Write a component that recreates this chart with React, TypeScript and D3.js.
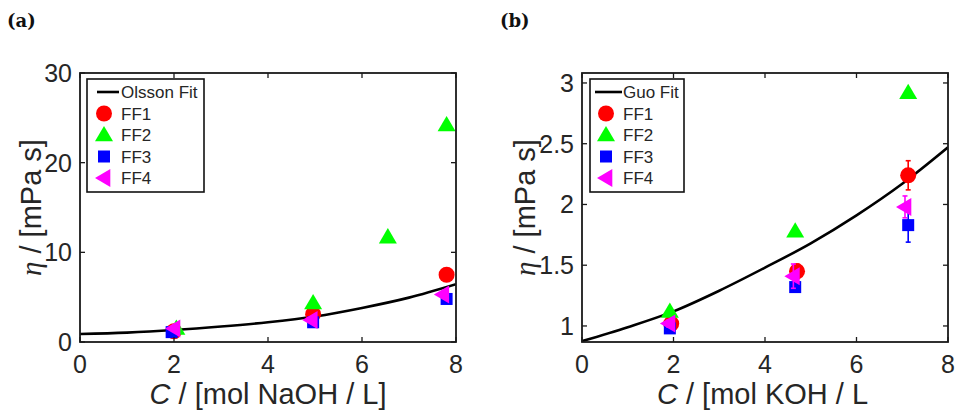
import React from "react";
import * as d3 from "d3";

// ---------- Panel (a): NaOH ----------
const aFitC = [0, 1, 2, 3, 4, 5, 6, 7, 8];
const aFitEta = [0.9, 1.05, 1.33, 1.72, 2.2, 2.85, 3.8, 4.95, 6.45];

const aFF1C = [2.0, 4.96, 7.8];
const aFF1 = [1.2, 3.1, 7.5];
const aFF2C = [2.05, 4.96, 6.55, 7.8];
const aFF2 = [1.5, 4.35, 11.7, 24.2];
const aFF3C = [1.95, 4.96, 7.8];
const aFF3 = [1.1, 2.2, 4.8];
const aFF4C = [2.0, 4.92, 7.72];
const aFF4 = [1.5, 2.45, 5.3];

const aXTicks = [0, 2, 4, 6, 8];
const aYTicks = [0, 10, 20, 30];

// ---------- Panel (b): KOH ----------
const bFitC = [0, 1, 2, 3, 4, 5, 6, 7, 8];
const bFitEta = [0.875, 0.99, 1.12, 1.29, 1.48, 1.68, 1.91, 2.17, 2.47];

const bFF1C = [1.95, 4.7, 7.13];
const bFF1 = [1.02, 1.45, 2.24];
const bFF1Err = [0.03, 0.06, 0.12];
const bFF2C = [1.92, 4.66, 7.13];
const bFF2 = [1.12, 1.78, 2.92];
const bFF2Err = [0.02, 0.02, 0.02];
const bFF3C = [1.92, 4.66, 7.13];
const bFF3 = [0.98, 1.32, 1.83];
const bFF3Err = [0.02, 0.04, 0.14];
const bFF4C = [1.9, 4.62, 7.06];
const bFF4 = [1.02, 1.41, 1.98];
const bFF4Err = [0.03, 0.1, 0.09];

const bXTicks = [0, 2, 4, 6, 8];
const bYTicks = [1, 1.5, 2, 2.5, 3];

const seriesNames = ["FF1", "FF2", "FF3", "FF4"];
const seriesColors = ["#ff0000", "#00ff00", "#0000ff", "#ff00ff"];

const FONT = "'Liberation Sans', Arial, Helvetica, sans-serif";
const TEXT = "#262626";

type Pt = { c: number; v: number; e?: number };

function zip(cs: number[], vs: number[], es?: number[]): Pt[] {
  return cs.map((c, i) => ({ c, v: vs[i], e: es ? es[i] : undefined }));
}

function Marker({ kind, x, y, color }: { kind: number; x: number; y: number; color: string }) {
  if (kind === 0) return <circle cx={x} cy={y} r={8} fill={color} />;
  if (kind === 1) {
    const s = 9;
    return (
      <path
        d={`M${x},${y - s} L${x + s},${y + s * 0.7} L${x - s},${y + s * 0.7} Z`}
        fill={color}
      />
    );
  }
  if (kind === 2) return <rect x={x - 6} y={y - 6} width={12} height={12} fill={color} />;
  const s = 9;
  return (
    <path d={`M${x - s},${y} L${x + s * 0.7},${y - s} L${x + s * 0.7},${y + s} Z`} fill={color} />
  );
}

type PanelProps = {
  left: number;
  right: number;
  top: number;
  bottom: number;
  yDomain: [number, number];
  xTicks: number[];
  yTicks: number[];
  fitC: number[];
  fitEta: number[];
  series: Pt[][];
  fitName: string;
  legendBox: [number, number, number, number];
  legendLine: [number, number];
  legendMarkerX: number;
  legendTextX: number;
  label: string;
  labelX: number;
  xLabelRest: string;
  xLabelX: number;
  xLabelAnchor: "middle" | "start";
  yLabelX: number;
  clipId: string;
};

function Panel(p: PanelProps) {
  const x = d3.scaleLinear().domain([0, 8]).range([p.left, p.right]);
  const y = d3.scaleLinear().domain(p.yDomain).range([p.bottom, p.top]);
  const line = d3
    .line<number>()
    .x((_, i) => x(p.fitC[i]))
    .y((d) => y(d))
    .curve(d3.curveMonotoneX);
  const tickLen = 5;
  const [lx0, ly0, lx1, ly1] = p.legendBox;
  const rowY = [92, 113.5, 135, 156.5, 178];
  return (
    <g>
      <defs>
        <clipPath id={p.clipId}>
          <rect x={p.left} y={p.top} width={p.right - p.left} height={p.bottom - p.top} />
        </clipPath>
      </defs>
      <text
        x={p.labelX}
        y={27}
        fontFamily="'DejaVu Serif', 'Liberation Serif', serif"
        fontWeight="bold"
        fontSize={18}
        fill="#111"
      >
        {p.label}
      </text>
      {/* fit line */}
      <path
        d={line(p.fitEta) || ""}
        fill="none"
        stroke="#000"
        strokeWidth={2.6}
        clipPath={`url(#${p.clipId})`}
      />
      {/* error bars + markers */}
      {p.series.map((pts, si) => (
        <g key={si}>
          {pts.map((d, i) =>
            d.e ? (
              <g key={"e" + i} stroke={seriesColors[si]} strokeWidth={1.6}>
                <line x1={x(d.c)} x2={x(d.c)} y1={y(d.v - d.e)} y2={y(d.v + d.e)} />
                <line x1={x(d.c) - 2.5} x2={x(d.c) + 2.5} y1={y(d.v - d.e)} y2={y(d.v - d.e)} />
                <line x1={x(d.c) - 2.5} x2={x(d.c) + 2.5} y1={y(d.v + d.e)} y2={y(d.v + d.e)} />
              </g>
            ) : null
          )}
          {pts.map((d, i) => (
            <Marker key={i} kind={si} x={x(d.c)} y={y(d.v)} color={seriesColors[si]} />
          ))}
        </g>
      ))}
      {/* axes box */}
      <rect
        x={p.left}
        y={p.top}
        width={p.right - p.left}
        height={p.bottom - p.top}
        fill="none"
        stroke="#1a1a1a"
        strokeWidth={1.8}
      />
      {p.xTicks.map((t) => (
        <g key={"xt" + t}>
          <line x1={x(t)} x2={x(t)} y1={p.bottom} y2={p.bottom - tickLen} stroke="#1a1a1a" strokeWidth={1.3} />
          <line x1={x(t)} x2={x(t)} y1={p.top} y2={p.top + tickLen} stroke="#1a1a1a" strokeWidth={1.3} />
          <text
            x={x(t)}
            y={p.bottom + 31}
            textAnchor="middle"
            fontFamily={FONT}
            fontSize={25}
            fill={TEXT}
          >
            {t}
          </text>
        </g>
      ))}
      {p.yTicks.map((t) => (
        <g key={"yt" + t}>
          <line x1={p.left} x2={p.left + tickLen} y1={y(t)} y2={y(t)} stroke="#1a1a1a" strokeWidth={1.3} />
          <line x1={p.right} x2={p.right - tickLen} y1={y(t)} y2={y(t)} stroke="#1a1a1a" strokeWidth={1.3} />
          <text
            x={p.left - 8}
            y={y(t)}
            dy="0.36em"
            textAnchor="end"
            fontFamily={FONT}
            fontSize={25}
            fill={TEXT}
          >
            {t}
          </text>
        </g>
      ))}
      {/* axis labels */}
      <text
        x={p.xLabelX}
        y={404}
        textAnchor={p.xLabelAnchor}
        fontFamily={FONT}
        fontSize={29}
        fill={TEXT}
      >
        <tspan fontStyle="italic">C</tspan>
        {p.xLabelRest}
      </text>
      <text
        transform={`translate(${p.yLabelX},${(p.top + p.bottom) / 2}) rotate(-90)`}
        textAnchor="middle"
        fontFamily={FONT}
        fontSize={29}
        fill={TEXT}
      >
        <tspan fontStyle="italic" fontFamily="'Liberation Serif', 'DejaVu Serif', serif">
          η
        </tspan>
        {" / [mPa s]"}
      </text>
      {/* legend */}
      <rect x={lx0} y={ly0} width={lx1 - lx0} height={ly1 - ly0} fill="#fff" stroke="#111" strokeWidth={1.6} />
      <line x1={p.legendLine[0]} x2={p.legendLine[1]} y1={rowY[0]} y2={rowY[0]} stroke="#000" strokeWidth={2.6} />
      <text x={p.legendTextX} y={rowY[0] + 6} fontFamily={FONT} fontSize={17} fill={TEXT}>
        {p.fitName}
      </text>
      {seriesNames.map((n, i) => (
        <g key={n}>
          <Marker kind={i} x={p.legendMarkerX} y={rowY[i + 1]} color={seriesColors[i]} />
          <text x={p.legendTextX} y={rowY[i + 1] + 6} fontFamily={FONT} fontSize={17} fill={TEXT}>
            {n}
          </text>
        </g>
      ))}
    </g>
  );
}

export default function App() {
  const aSeries = [zip(aFF1C, aFF1), zip(aFF2C, aFF2), zip(aFF3C, aFF3), zip(aFF4C, aFF4)];
  const bSeries = [
    zip(bFF1C, bFF1, bFF1Err),
    zip(bFF2C, bFF2, bFF2Err),
    zip(bFF3C, bFF3, bFF3Err),
    zip(bFF4C, bFF4, bFF4Err),
  ];
  return (
    <svg
      width={955}
      height={413}
      viewBox="0 0 955 413"
      style={{ position: "absolute", left: 0, top: 0, background: "#fff" }}
    >
      <rect width={955} height={413} fill="#fff" />
      <Panel
        left={80}
        right={456}
        top={73}
        bottom={342}
        yDomain={[0, 30]}
        xTicks={aXTicks}
        yTicks={aYTicks}
        fitC={aFitC}
        fitEta={aFitEta}
        series={aSeries}
        fitName="Olsson Fit"
        legendBox={[87, 79, 204, 192]}
        legendLine={[97, 119]}
        legendMarkerX={104}
        legendTextX={121}
        label="(a)"
        labelX={7}
        xLabelRest=" / [mol NaOH / L]"
        xLabelX={268}
        xLabelAnchor="middle"
        yLabelX={41}
        clipId="clipA"
      />
      <Panel
        left={582}
        right={948}
        top={73}
        bottom={342}
        yDomain={[0.868, 3.082]}
        xTicks={bXTicks}
        yTicks={bYTicks}
        fitC={bFitC}
        fitEta={bFitEta}
        series={bSeries}
        fitName="Guo Fit"
        legendBox={[590, 79, 684, 192]}
        legendLine={[595, 622]}
        legendMarkerX={606}
        legendTextX={623}
        label="(b)"
        labelX={500}
        xLabelRest=" / [mol KOH / L"
        xLabelX={657}
        xLabelAnchor="start"
        yLabelX={535}
        clipId="clipB"
      />
    </svg>
  );
}
